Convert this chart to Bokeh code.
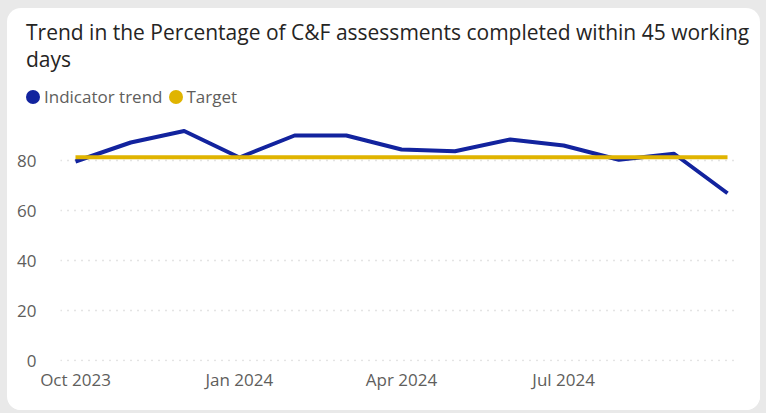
from datetime import datetime
from bokeh.plotting import figure
from bokeh.layouts import column
from bokeh.models import Range1d, FixedTicker, DatetimeTickFormatter, ColumnDataSource, Div
from bokeh.embed import file_html
from bokeh.resources import INLINE

# ---- data ----
months = ["2023-10-01", "2023-11-01", "2023-12-01", "2024-01-01", "2024-02-01",
          "2024-03-01", "2024-04-01", "2024-05-01", "2024-06-01", "2024-07-01",
          "2024-08-01", "2024-09-01", "2024-10-01"]
indicator = [79.6, 87.2, 91.8, 81.2, 90.0, 90.0, 84.4, 83.7, 88.4, 86.0, 80.3, 82.7, 66.9]
target = [81.3, 81.3, 81.3, 81.3, 81.3, 81.3, 81.3, 81.3, 81.3, 81.3, 81.3, 81.3, 81.3]
tick_months = ["2023-10-01", "2024-01-01", "2024-04-01", "2024-07-01"]
y_ticks = [0, 20, 40, 60, 80]
series_names = ["Indicator trend", "Target"]

TITLE_LINES = ["Trend in the Percentage of C&F assessments completed within 45 working", "days"]
BLUE = "#12239E"
GOLD = "#E0B400"
GREY_TXT = "#605E5C"
series_colors = [BLUE, GOLD]

dates = [datetime.strptime(m, "%Y-%m-%d") for m in months]
epoch = datetime(1970, 1, 1)
def ms(d):
    return (d - epoch).total_seconds() * 1000.0

src = ColumnDataSource(dict(date=dates, indicator=indicator, target=target))

# ---------- header (title + legend) ----------
dot = ("<span style='display:inline-block;width:14px;height:14px;border-radius:50%;"
       "background:{c};margin:0 4px 0 {ml}px;'></span>")
legend_html = "".join(
    dot.format(c=c, ml=(0 if i == 0 else 6)) + "<span>" + n + "</span>"
    for i, (n, c) in enumerate(zip(series_names, series_colors)))
header_html = (
    "<div style='position:relative;width:753px;height:102px;font-family:\"Open Sans\";'>"
    "<div style='position:absolute;left:19px;top:11px;font-size:21px;line-height:27px;"
    "color:#252423;white-space:nowrap;'>" + "<br>".join(TITLE_LINES) + "</div>"
    "<div style='position:absolute;left:19px;top:77px;font-size:17px;line-height:24px;"
    "color:" + GREY_TXT + ";display:flex;align-items:center;white-space:nowrap;'>"
    + legend_html + "</div></div>")
header = Div(text=header_html, width=753, height=102, margin=0)

# ---------- main chart ----------
p = figure(width=753, height=300, output_backend="svg", toolbar_location=None,
           x_axis_type="datetime",
           x_range=Range1d(datetime(2023, 9, 22, 14), datetime(2024, 10, 7, 4)),
           y_range=Range1d(-0.4, 96.8),
           min_border_left=53, min_border_right=22, min_border_bottom=49, min_border_top=8)
p.margin = 0
p.background_fill_color = "white"
p.border_fill_color = "white"
p.outline_line_color = None

p.xgrid.grid_line_color = None
p.ygrid.grid_line_color = "#C8C8C8"
p.ygrid.grid_line_dash = "1 6"
p.ygrid.grid_line_width = 1.5
p.yaxis.ticker = FixedTicker(ticks=y_ticks)

for ax in (p.xaxis[0], p.yaxis[0]):
    ax.axis_line_color = None
    ax.major_tick_line_color = None
    ax.minor_tick_line_color = None
    ax.major_label_text_font = "Open Sans"
    ax.major_label_text_font_size = "17px"
    ax.major_label_text_color = GREY_TXT
p.yaxis.major_label_standoff = 18
p.xaxis.major_label_standoff = 0
p.xaxis.ticker = FixedTicker(ticks=[ms(datetime.strptime(t, "%Y-%m-%d")) for t in tick_months])
fmt = "%b %Y"
p.xaxis.formatter = DatetimeTickFormatter(years=fmt, months=fmt, days=fmt, hours=fmt,
                                          minutes=fmt, seconds=fmt, milliseconds=fmt,
                                          microseconds=fmt, minsec=fmt, hourmin=fmt)

p.line("date", "indicator", source=src, line_color=BLUE, line_width=4, line_join="round")
p.line("date", "target", source=src, line_color=GOLD, line_width=4)

layout = column(header, p, spacing=0)
layout.margin = (8, 6, 3, 7)
layout.styles = {"border-radius": "14px", "overflow": "hidden", "background": "white"}

html = file_html(layout, INLINE)
html = html.replace("</head>", "<style>body{background:#e9e9e9;}</style></head>", 1)
open("out.html", "w").write(html)
